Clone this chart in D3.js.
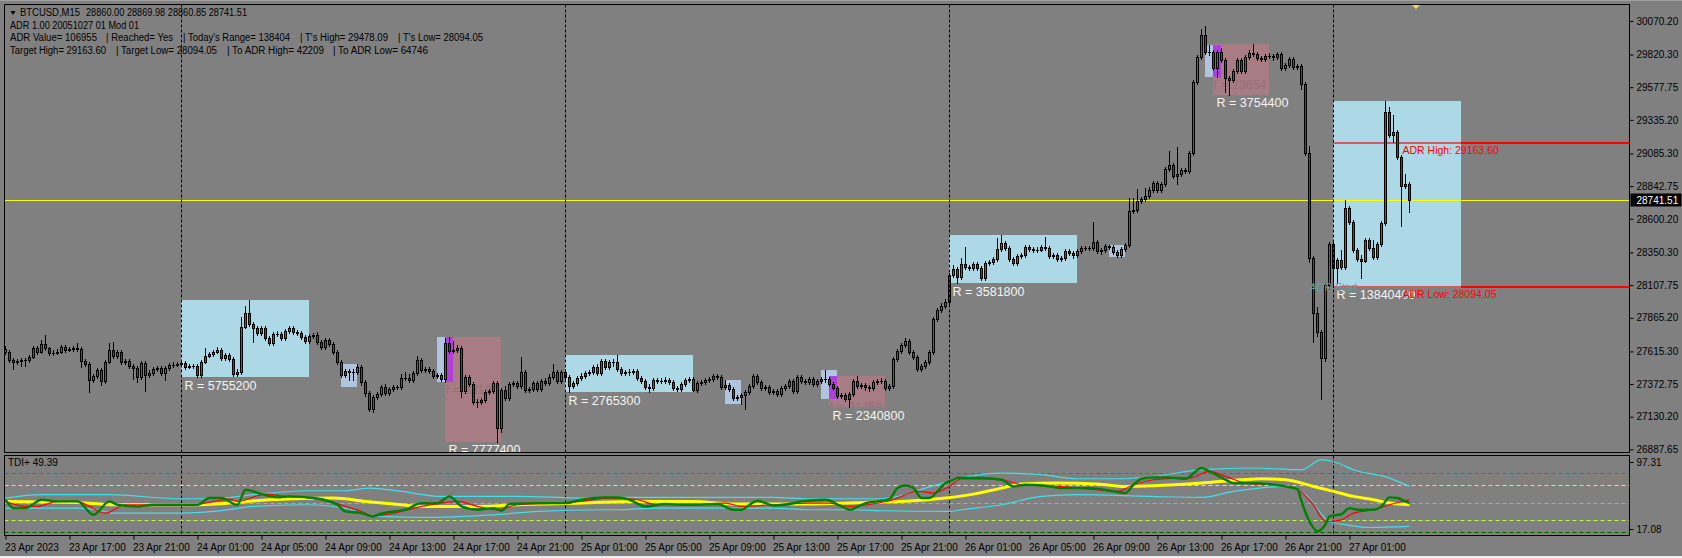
<!DOCTYPE html>
<html><head><meta charset="utf-8">
<script src="https://cdn.jsdelivr.net/npm/d3@7"></script>
<style>
html,body{margin:0;padding:0;background:#808080;overflow:hidden;}
svg{display:block;}
text{font-family:"Liberation Sans",Arial,sans-serif;}
</style></head><body>
<svg id="c" width="1682" height="558"></svg>
<script>
// ---------------- DATA ----------------
const firstOpen = 27634;
const closes = [
27611,27552,27537,27544,27552,27552,27574,27641,27611,27671,
27641,27604,27604,27611,27648,27626,27634,27641,27634,27544,
27522,27403,27433,27478,27396,27537,27626,27582,27611,27537,
27544,27507,27492,27425,27529,27440,27455,27485,27492,27455,
27492,27515,27515,27522,27529,27500,27507,27507,27440,27537,
27582,27596,27611,27626,27567,27589,27559,27448,27463,27797,
27901,27819,27789,27752,27789,27715,27678,27745,27745,27715,
27767,27789,27760,27752,27723,27693,27730,27738,27686,27648,
27700,27671,27611,27537,27440,27470,27463,27463,27500,27389,
27307,27188,27277,27299,27351,27307,27336,27351,27351,27418,
27418,27403,27455,27552,27478,27485,27470,27433,27440,27411,
27678,27619,27626,27641,27322,27425,27374,27240,27240,27255,
27314,27322,27381,27047,27329,27270,27374,27381,27359,27463,
27329,27336,27381,27336,27396,27381,27425,27463,27396,27463,
27425,27359,27381,27418,27433,27455,27463,27500,27455,27544,
27500,27537,27537,27485,27455,27463,27463,27470,27418,27396,
27351,27344,27403,27396,27396,27403,27389,27344,27336,27374,
27403,27411,27329,27381,27389,27403,27411,27433,27425,27351,
27366,27336,27270,27277,27292,27314,27359,27433,27389,27344,
27351,27314,27322,27299,27344,27359,27396,27322,27425,27396,
27389,27411,27374,27396,27411,27411,27374,27344,27285,27292,
27262,27299,27396,27359,27366,27351,27344,27389,27396,27396,
27344,27359,27559,27619,27663,27693,27611,27574,27485,27507,
27537,27611,27856,27923,27953,27983,28183,28228,28168,28265,
28242,28235,28265,28235,28161,28272,28280,28302,28376,28421,
28384,28302,28272,28324,28332,28391,28376,28369,28372,28391,
28384,28324,28332,28302,28309,28361,28347,28332,28361,28384,
28384,28380,28428,28361,28369,28399,28391,28354,28332,28376,
28406,28659,28666,28733,28748,28770,28814,28867,28814,28859,
28970,29000,28918,28933,28963,28955,29089,29617,29802,29966,
29840,29836,29721,29840,29780,29646,29631,29698,29780,29698,
29802,29832,29824,29795,29787,29810,29806,29802,29824,29721,
29743,29787,29728,29735,29602,29089,28309,27901,27760,27567,
28109,28413,28235,28295,28242,28681,28577,28369,28302,28290,
28443,28384,28317,28413,28569,29394,29223,29246,29060,28844,
28860,28741.51];
const highs = [
27656,27626,27567,27559,27567,27567,27589,27656,27656,27700,
27738,27648,27626,27634,27663,27663,27648,27656,27678,27648,
27559,27537,27448,27492,27492,27552,27678,27686,27626,27626,
27559,27559,27522,27507,27544,27544,27478,27500,27507,27507,
27507,27529,27537,27537,27544,27544,27522,27522,27522,27552,
27641,27611,27626,27648,27641,27604,27604,27574,27485,27871,
27953,27997.5,27834,27804,27804,27804,27730,27760,27767,27760,
27782,27804,27804,27775,27767,27738,27745,27752,27760,27700,
27715,27715,27686,27626,27552,27485,27485,27485,27522,27515,
27403,27322,27292,27314,27366,27374,27351,27366,27366,27448,
27463,27448,27470,27582,27567,27500,27500,27485,27455,27455,
27715,27723,27693,27663,27656,27440,27440,27389,27262,27270,
27329,27336,27396,27396,27344,27359,27389,27396,27396,27574,
27478,27351,27396,27396,27411,27418,27448,27522,27478,27478,
27485,27440,27396,27433,27455,27470,27478,27515,27522,27559,
27559,27552,27559,27589,27500,27478,27485,27485,27485,27433,
27411,27374,27418,27418,27418,27425,27418,27403,27359,27389,
27418,27425,27425,27396,27403,27418,27425,27448,27448,27440,
27403,27381,27351,27292,27307,27329,27374,27448,27448,27403,
27366,27366,27336,27336,27359,27374,27411,27411,27440,27440,
27411,27425,27425,27411,27425,27478,27425,27389,27359,27307,
27307,27314,27411,27433,27381,27381,27366,27403,27411,27418,
27411,27374,27574,27634,27678,27715,27708,27626,27589,27522,
27552,27626,27871,27938,27975,28005,28198,28258,28242,28309,
28391,28258,28280,28280,28250,28287,28295,28317,28458,28480,
28436,28399,28317,28339,28347,28406,28406,28391,28391,28406,
28465,28399,28347,28347,28324,28376,28376,28361,28376,28399,
28399,28399,28577,28443,28384,28413,28406,28406,28369,28391,
28421,28755,28755,28822,28763,28829,28837,28881,28881,28874,
28985,29104,29015,29134,28978,28978,29104,29631,29817,30010,
30032,29891,29854,29854,29869,29795,29661,29713,29795,29795,
29817,29854,29899,29839,29810,29824,29832,29824,29839,29839,
29758,29802,29802,29750,29750,29617,29141,28324,27946,27775,
28124,28428,28428,28309,28369,28740,28696,28592,28384,28332,
28458,28458,28443,28428,28584,29478.09,29431,29371,29260,29074,
28933,28870];
const lows = [
27596,27537,27485,27522,27507,27507,27537,27567,27596,27604,
27626,27589,27589,27596,27604,27611,27619,27619,27619,27500,
27507,27314,27389,27418,27366,27381,27529,27567,27567,27522,
27522,27492,27411,27389,27411,27322,27425,27440,27470,27440,
27403,27478,27500,27507,27507,27485,27492,27492,27425,27422,
27529,27574,27582,27604,27552,27552,27544,27433,27433,27448,
27789,27804,27686,27738,27738,27700,27663,27663,27730,27700,
27700,27752,27745,27738,27708,27678,27678,27715,27671,27634,
27634,27656,27596,27522,27425,27425,27403,27403,27448,27366,
27285,27173,27166,27262,27285,27292,27292,27322,27336,27336,
27403,27389,27389,27440,27463,27463,27455,27418,27418,27396,
27389,27604,27604,27611,27277,27307,27359,27225,27203,27225,
27240,27299,27307,26945,27017,27255,27255,27359,27344,27344,
27314,27314,27322,27322,27322,27366,27366,27411,27381,27381,
27411,27314,27344,27366,27403,27418,27440,27448,27440,27440,
27485,27485,27507,27470,27440,27440,27440,27448,27403,27381,
27336,27313,27329,27381,27381,27381,27374,27329,27322,27322,
27359,27389,27322,27314,27366,27374,27389,27396,27411,27336,
27336,27322,27255,27255,27225,27188,27299,27344,27374,27329,
27329,27299,27299,27285,27285,27329,27344,27307,27307,27381,
27374,27374,27359,27359,27381,27389,27359,27329,27270,27270,
27248,27199,27285,27344,27344,27329,27322,27329,27374,27381,
27329,27329,27344,27544,27604,27648,27596,27559,27470,27470,
27492,27522,27596,27841,27908,27938,27968,28168,28122,28153,
28228,28220,28220,28220,28146,28146,28258,28265,28287,28361,
28369,28287,28258,28258,28309,28317,28361,28354,28354,28361,
28369,28309,28309,28287,28287,28295,28332,28309,28317,28347,
28369,28369,28369,28347,28339,28354,28376,28339,28317,28317,
28361,28391,28644,28651,28718,28733,28755,28800,28800,28800,
28844,28956,28904,28859,28918,28941,28941,29074,29602,29787,
29824,29817,29706,29656,29765,29542,29523,29617,29683,29683,
29683,29787,29810,29780,29773,29773,29795,29780,29787,29706,
29706,29728,29713,29713,29565,29074,28280,27686,27730,27262,
27544,28079,28094.05,28124,28228,28228,28562,28354,28287,28161,
28280,28369,28302,28302,28398,28555,29208,29171,29045,28547,
28829,28651];
const bidPrice = 28741.51;

// session boxes: [startBar, endBar, high, low, label]
const blueBoxes = [
  [44, 76, 27997.5, 27421.98, "R = 5755200"],
  [140, 172, 27589.0, 27312.47, "R = 2765300"],
  [236, 268, 28480.2, 28122.02, "R = 3581800"],
  [332, 364, 29478.09, 28094.05, "R = 13840400"]];
const pinkBoxes = [
  [110, 124, 27722.7, 26944.96, "R = 7777400"],
  [206, 220, 27433.0, 27198.92, "R = 2340800"],
  [302, 316, 29898.8, 29523.36, "R = 3754400"]];
const lavBoxes = [
  [84, 88, 27522.0, 27353.6, "R = 16840"],
  [108, 112, 27722.7, 27390.8, "R = 33190"],
  [180, 184, 27403.3, 27225.0, "R = 17830"],
  [204, 208, 27477.6, 27265.0, "R = 21258"],
  [276, 280, 28406.0, 28317.0, "R = 8900"],
  [300, 304, 29891.4, 29654.9, "R = 23654"]];

const adrHigh = 29163.60, adrLow = 28094.05, adrStartBar = 332;
const dayStartBars = [44, 140, 236, 332];

const priceTicks = [30070.20,29820.30,29577.75,29335.20,29085.30,28842.75,28600.20,28350.30,28107.75,27865.20,27615.30,27372.75,27130.20,26887.65];
const timeBars = [0,16,32,48,64,80,96,112,128,144,160,176,192,208,224,240,256,272,288,304,320,336];
const timeLabels = ["23 Apr 2023","23 Apr 17:00","23 Apr 21:00","24 Apr 01:00","24 Apr 05:00","24 Apr 09:00","24 Apr 13:00","24 Apr 17:00","24 Apr 21:00","25 Apr 01:00","25 Apr 05:00","25 Apr 09:00","25 Apr 13:00","25 Apr 17:00","25 Apr 21:00","26 Apr 01:00","26 Apr 05:00","26 Apr 09:00","26 Apr 13:00","26 Apr 17:00","26 Apr 21:00","27 Apr 01:00"];

// TDI: [bar, value]
const tdiGreen = [[0,52.9],[2,44.4],[5,44.4],[9,52.9],[13,51.2],[18,51.2],[22,37.6],[26,51.2],[28,47.8],[33,46.1],[37,47.8],[48,47.8],[51,54.6],[54,54.6],[58,47.8],[60,63.1],[64,58.6],[68,55.3],[71,56.3],[77,54.6],[81,51.2],[83,47.8],[85,41.0],[89,39.3],[92,35.9],[93,37.6],[97,41.0],[100,42.7],[104,49.5],[108,49.5],[111,56.3],[114,46.1],[118,42.7],[122,44.4],[124,41.7],[126,48.5],[133,49.5],[140,49.5],[144,52.9],[150,55.3],[153,55.3],[156,52.9],[160,46.1],[165,48.5],[169,47.8],[172,47.8],[178,48.5],[182,42.7],[184,42.7],[186,47.8],[188,51.9],[192,47.1],[195,47.8],[199,51.2],[205,52.9],[209,46.1],[211,42.7],[215,49.5],[218,51.2],[221,53.6],[223,64.7],[225,67.5],[227,64.7],[229,54.6],[231,54.6],[233,61.4],[235,69.8],[237,73.2],[238,74.9],[244,74.9],[249,73.2],[252,66.4],[255,68.1],[260,67.1],[264,64.7],[271,64.7],[277,61.4],[280,59.7],[282,68.1],[284,74.2],[287,75.6],[290,75.6],[295,74.2],[299,85.1],[301,81.7],[303,77.6],[305,73.2],[307,69.8],[312,69.8],[316,68.8],[320,66.4],[323,63.7],[324,51.2],[326,30.8],[328,21.0],[330,28.0],[331,36.0],[334,38.3],[336,44.4],[338,42.7],[342,42.7],[344,46.1],[346,55.3],[348,54.6],[350,51.2],[351,49.39]];
const tdiRed = [[0,51.2],[5,46.1],[8,46.1],[13,51.2],[18,51.2],[21,46.1],[25,39.3],[30,47.8],[47,47.8],[52,51.2],[56,53.6],[58,51.2],[65,58.6],[70,56.3],[75,55.3],[81,51.2],[85,46.1],[89,41.0],[92,36.6],[99,41.0],[104,46.1],[109,49.5],[113,51.2],[118,46.1],[123,42.7],[128,47.8],[137,49.5],[144,51.2],[150,54.6],[153,54.6],[158,52.9],[163,47.8],[172,47.8],[180,49.5],[184,46.1],[192,47.8],[201,49.5],[206,49.5],[211,46.1],[218,49.5],[222,52.9],[225,58.0],[228,61.4],[232,59.7],[236,66.4],[239,74.2],[249,73.2],[254,68.1],[263,66.4],[271,63.7],[278,61.4],[282,68.1],[287,73.2],[293,74.9],[296,74.9],[301,81.7],[305,76.6],[310,69.8],[318,67.5],[323,63.1],[327,47.8],[330,30.8],[334,32.5],[337,39.3],[342,42.7],[346,47.8],[351,52.9]];
const tdiYellow = [[0,51.2],[18,50.2],[27,47.8],[47,47.8],[56,49.5],[66,52.9],[82,54.6],[90,51.2],[99,47.8],[104,46.1],[118,46.1],[128,47.8],[144,49.5],[158,51.2],[172,51.2],[182,48.5],[201,48.5],[211,49.5],[218,50.5],[224,51.2],[235,54.6],[242,58.6],[249,64.7],[254,68.8],[263,69.8],[273,68.8],[280,66.4],[287,67.0],[299,69.8],[309,73.2],[314,74.2],[320,73.2],[327,66.4],[332,61.4],[337,56.3],[342,52.9],[346,49.5],[351,47.8]];
const tdiUpper = [[0,54.6],[9,58.0],[26,58.0],[44,53.9],[52,53.9],[62,58.0],[75,62.0],[85,62.0],[91,64.7],[99,61.4],[109,56.3],[128,56.3],[144,54.6],[153,55.3],[192,55.3],[201,53.9],[218,53.9],[225,58.0],[230,64.7],[236,71.5],[241,76.6],[249,80.0],[259,78.3],[268,74.2],[278,74.2],[287,76.6],[299,83.4],[312,85.1],[324,83.4],[329,93.6],[333,90.2],[337,83.4],[346,74.9],[351,66.4]];
const tdiLower = [[0,44.4],[18,44.4],[23,42.7],[27,39.3],[44,39.3],[52,41.0],[62,46.1],[75,47.8],[85,44.4],[94,35.9],[104,34.9],[122,37.6],[133,41.0],[149,42.7],[153,42.7],[163,44.4],[192,44.4],[201,42.7],[211,42.7],[220,41.7],[236,41.0],[239,42.7],[249,47.8],[259,56.3],[268,58.0],[286,56.3],[299,55.3],[307,61.4],[320,66.4],[325,58.0],[331,30.8],[335,27.5],[341,24.7],[351,25.8]];
const tdiLevels = [80, 68, 50, 32, 20];
const tdiLevelColors = ["#ff2020", "#ffc8c8", "#a8a8a8", "#b8ff40", "#006000"];
const tdiRange = [17.08, 97.31];
const tdiLabel = "TDI+ 49.39";

// header texts: [text, line, x, width]
const headerLines = [
  ["BTCUSD,M15", 0, 20, 60],
  ["28860.00 28869.98 28860.85 28741.51", 0, 86, 161],
  ["ADR 1.00 20051027 01 Mod 01", 1, 10, 129],
  ["ADR Value= 106955", 2, 10, 87],
  ["| Reached= Yes", 2, 106, 67],
  ["| Today's Range= 138404", 2, 183, 107],
  ["| T's High= 29478.09", 2, 300, 88],
  ["| T's Low= 28094.05", 2, 398, 85],
  ["Target High= 29163.60", 3, 10, 96],
  ["| Target Low= 28094.05", 3, 116, 101],
  ["| To ADR High= 42209", 3, 227, 97],
  ["| To ADR Low= 64746", 3, 333, 95]];

// ---------------- LAYOUT ----------------
const W = 1682, H = 558;
const L = 4.5, R = 1629.5, mainTop = 4.5, mainBot = 452.5, indTop = 455.5, indBot = 535.5;
const nBars = closes.length;
const opens = closes.map((c, i) => i === 0 ? firstOpen : closes[i - 1]);

const x = d3.scaleLinear().domain([0, nBars - 1]).range([5.5, 5.5 + 4 * (nBars - 1)]);
const y = d3.scaleLinear().domain([26887.65, 30070.20]).range([449.4, 20.9]);
const yi = d3.scaleLinear().domain(tdiRange).range([535, 456]);

const svg = d3.select("#c");
svg.append("rect").attr("width", W).attr("height", H).attr("fill", "#808080");
svg.append("rect").attr("x", 0).attr("y", 556).attr("width", W).attr("height", 2).attr("fill", "#f0f0f0");
svg.append("rect").attr("x", 0).attr("y", 0).attr("width", W).attr("height", 1).attr("fill", "#a0a0a0");

const defs = svg.append("defs");
defs.append("clipPath").attr("id", "mc").append("rect").attr("x", L).attr("y", mainTop).attr("width", R - L).attr("height", mainBot - mainTop);
defs.append("clipPath").attr("id", "ic").append("rect").attr("x", L).attr("y", indTop).attr("width", R - L).attr("height", indBot - indTop);
pinkBoxes.forEach((b, k) => {
  defs.append("clipPath").attr("id", "pc" + k).append("rect")
    .attr("x", Math.floor(x(b[0]))).attr("y", Math.round(y(b[2])))
    .attr("width", Math.floor(x(b[1])) - Math.floor(x(b[0]))).attr("height", Math.round(y(b[3])) - Math.round(y(b[2])));
});

const main = svg.append("g").attr("clip-path", "url(#mc)");
const boxG = main.append("g").attr("shape-rendering", "crispEdges");
function drawBox(b, fill) {
  const x0 = Math.floor(x(b[0])), x1 = Math.floor(x(b[1]));
  const y0 = Math.round(y(b[2])), y1 = Math.round(y(b[3]));
  boxG.append("rect").attr("x", x0).attr("y", y0).attr("width", x1 - x0).attr("height", y1 - y0).attr("fill", fill);
}
blueBoxes.forEach(b => drawBox(b, "#add8e6"));
pinkBoxes.forEach(b => drawBox(b, "#a87c84"));
lavBoxes.forEach(b => drawBox(b, "#b0c4de"));
// overlap of lavender and pink boxes
lavBoxes.forEach(a => pinkBoxes.forEach(p => {
  const s = Math.max(a[0], p[0]), e = Math.min(a[1], p[1]);
  const hi = Math.min(a[2], p[2]), lo = Math.max(a[3], p[3]);
  if (s < e && lo < hi) drawBox([s, e, hi, lo], "#b040d8");
}));

// faint labels of the small boxes, visible on the pink boxes only
lavBoxes.forEach(a => pinkBoxes.forEach((p, k) => {
  if (a[0] < p[1] && a[1] > p[0]) {
    main.append("text").attr("clip-path", "url(#pc" + k + ")")
      .attr("x", x(a[0]) + 3).attr("y", y(a[3]) + 12.5)
      .attr("font-size", "12.5px").attr("fill", "#95707a").text(a[4]);
  }
}));

// ADR lines
const adrBox = blueBoxes[3];
[adrHigh, adrLow].forEach(v => {
  const yy = Math.round(y(v));
  main.append("rect").attr("x", Math.floor(x(adrStartBar))).attr("y", yy - 1).attr("width", R - Math.floor(x(adrStartBar))).attr("height", 2).attr("fill", "#ff0000").attr("shape-rendering", "crispEdges");
  main.append("rect").attr("x", Math.floor(x(adrStartBar))).attr("y", yy - 1).attr("width", Math.floor(x(adrBox[1])) - Math.floor(x(adrStartBar))).attr("height", 2).attr("fill", "#d85862").attr("shape-rendering", "crispEdges");
});

// day separators
const sepG = svg.append("g");
dayStartBars.forEach(b => {
  sepG.append("line").attr("x1", x(b)).attr("x2", x(b)).attr("y1", mainTop).attr("y2", mainBot).attr("stroke", "#000").attr("stroke-dasharray", "3,2");
  sepG.append("line").attr("x1", x(b)).attr("x2", x(b)).attr("y1", indTop).attr("y2", indBot).attr("stroke", "#000").attr("stroke-dasharray", "3,2");
});

// bid line
const bidY = Math.round(y(bidPrice)) + 0.5;
main.append("line").attr("x1", L).attr("x2", R).attr("y1", bidY).attr("y2", bidY).attr("stroke", "#ffff00");

// candles
const cg = main.append("g").attr("shape-rendering", "crispEdges");
for (let i = 0; i < nBars; i++) {
  const o = opens[i], c = closes[i];
  const cx = x(i);
  const yh = Math.round(y(highs[i])), yl = Math.round(y(lows[i]));
  const yt = Math.round(y(Math.max(o, c))), yb = Math.round(y(Math.min(o, c)));
  cg.append("line").attr("x1", cx).attr("x2", cx).attr("y1", yh).attr("y2", yl + 1).attr("stroke", "#000");
  cg.append("rect").attr("x", cx - 1.5).attr("y", yt).attr("width", 3).attr("height", Math.max(1, yb - yt + 1)).attr("fill", "#000");
  if (yb - yt >= 2) {
    cg.append("rect").attr("x", cx - 0.5).attr("y", yt + 1).attr("width", 1).attr("height", yb - yt - 1)
      .attr("fill", c >= o ? "#00a000" : "#ff0000");
  }
}

// box range labels
const labG = main.append("g");
blueBoxes.concat(pinkBoxes).forEach(b => {
  labG.append("text").attr("x", x(b[0]) + 3).attr("y", y(b[3]) + 12.5)
    .attr("font-size", "12.5px").attr("fill", "#f4f4f4").text(b[4]);
});
// ADR labels
labG.append("text").attr("x", x(adrStartBar)).attr("y", y(adrLow) + 4).attr("text-anchor", "middle")
  .attr("font-size", "10.5px").attr("fill", "#5f9ea0").text("ADR Start");
labG.append("text").attr("x", x(nBars - 1) - 7).attr("y", y(adrHigh) + 11)
  .attr("font-size", "10.5px").attr("fill", "#ff0000").text("ADR High: " + adrHigh.toFixed(2));
labG.append("text").attr("x", x(nBars - 1) - 7).attr("y", y(adrLow) + 11)
  .attr("font-size", "10.5px").attr("fill", "#ff0000").text("ADR Low: " + adrLow.toFixed(2));

// ---------------- TDI panel ----------------
const ind = svg.append("g").attr("clip-path", "url(#ic)");
tdiLevels.forEach((v, k) => {
  const yy = Math.round(yi(v)) + 0.5;
  ind.append("line").attr("x1", L).attr("x2", R).attr("y1", yy).attr("y2", yy)
    .attr("stroke", tdiLevelColors[k]).attr("stroke-dasharray", "4,3");
});
const ln = d3.line().x(d => x(d[0])).y(d => yi(d[1])).curve(d3.curveMonotoneX);
[[tdiUpper, "#40e0e8", 1.2], [tdiLower, "#40e0e8", 1.2], [tdiYellow, "#ffff00", 3], [tdiRed, "#ff0000", 1.2], [tdiGreen, "#008000", 2.4]]
  .forEach(s => ind.append("path").attr("d", ln(s[0])).attr("fill", "none").attr("stroke", s[1]).attr("stroke-width", s[2]).attr("stroke-linejoin", "round"));
ind.append("text").attr("x", 8).attr("y", indTop + 10).attr("font-size", "10px").attr("fill", "#000").text(tdiLabel);

// frames
svg.append("rect").attr("x", L).attr("y", mainTop).attr("width", R - L).attr("height", mainBot - mainTop).attr("fill", "none").attr("stroke", "#000");
svg.append("rect").attr("x", L).attr("y", indTop).attr("width", R - L).attr("height", indBot - indTop).attr("fill", "none").attr("stroke", "#000");

// ---------------- axes ----------------
const axR = svg.append("g").attr("transform", `translate(${R},0)`)
  .call(d3.axisRight(y).tickValues(priceTicks).tickFormat(d => d.toFixed(2)).tickSize(4).tickPadding(3));
axR.select(".domain").remove();
axR.selectAll("line").attr("stroke", "#000");
axR.selectAll("text").attr("font-size", "10px").attr("fill", "#000").attr("font-family", "Liberation Sans, Arial, sans-serif");

// indicator scale labels
tdiRange.slice().reverse().forEach((v, k) => {
  const yy = yi(v) + (k === 0 ? 6 : -6);
  svg.append("line").attr("x1", R).attr("x2", R + 4).attr("y1", Math.round(yy) + 0.5).attr("y2", Math.round(yy) + 0.5).attr("stroke", "#000");
  svg.append("text").attr("x", R + 7).attr("y", yy + 3.5).attr("font-size", "10px").attr("fill", "#000").text(v.toFixed(2));
});

const axB = svg.append("g").attr("transform", `translate(0,${indBot})`)
  .call(d3.axisBottom(x).tickValues(timeBars).tickFormat((d, i) => timeLabels[i]).tickSize(4).tickPadding(4));
axB.select(".domain").remove();
axB.selectAll("line").attr("stroke", "#000");
axB.selectAll("text").attr("text-anchor", "start").attr("dx", "-1").attr("font-size", "10px").attr("fill", "#000").attr("font-family", "Liberation Sans, Arial, sans-serif");

// bid price label
const bp = svg.append("g");
bp.append("rect").attr("x", R + 1).attr("y", bidY - 7).attr("width", 51).attr("height", 13).attr("fill", "#000");
bp.append("text").attr("x", R + 7).attr("y", bidY + 3.5).attr("font-size", "10px").attr("fill", "#fff").text(bidPrice.toFixed(2));

// header
const lineBase = [16.3, 28.9, 41.0, 53.6];
headerLines.forEach(h => {
  svg.append("text").attr("x", h[2]).attr("y", lineBase[h[1]]).attr("font-size", "10px").attr("fill", "#000")
    .attr("textLength", h[3]).attr("lengthAdjust", "spacingAndGlyphs").style("white-space", "pre").text(h[0]);
});
svg.append("path").attr("d", "M10.5,11 L15.5,11 L13,15 Z").attr("fill", "#000");
// chart shift marker
svg.append("path").attr("d", `M${x(nBars - 1) + 2.5},5 L${x(nBars - 1) + 10.5},5 L${x(nBars - 1) + 6.5},9 Z`).attr("fill", "#f0e040");
</script></body></html>
